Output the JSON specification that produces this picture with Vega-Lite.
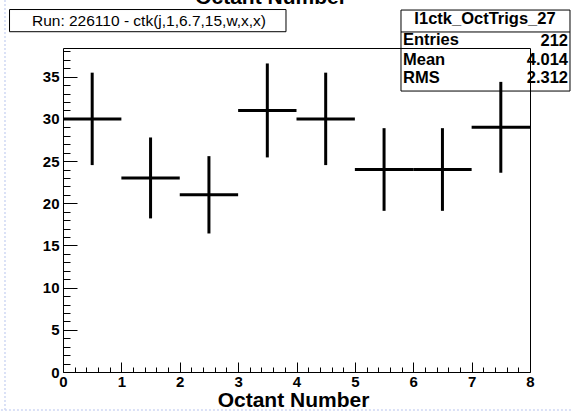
{
  "$schema": "https://vega.github.io/schema/vega-lite/v6.json",
  "width": 467,
  "height": 324,
  "autosize": {"type": "none"},
  "padding": {"left": 63, "top": 48, "right": 41, "bottom": 42},
  "background": "white",
  "config": {
    "view": {"stroke": "black", "strokeWidth": 1},
    "font": "Liberation Sans"
  },
  "datasets": {
    "octants": [
      {"octant": 0.5, "edge_lo": 0, "edge_hi": 1, "entries": 30, "low": 24.523, "high": 35.477},
      {"octant": 1.5, "edge_lo": 1, "edge_hi": 2, "entries": 23, "low": 18.204, "high": 27.796},
      {"octant": 2.5, "edge_lo": 2, "edge_hi": 3, "entries": 21, "low": 16.417, "high": 25.583},
      {"octant": 3.5, "edge_lo": 3, "edge_hi": 4, "entries": 31, "low": 25.432, "high": 36.568},
      {"octant": 4.5, "edge_lo": 4, "edge_hi": 5, "entries": 30, "low": 24.523, "high": 35.477},
      {"octant": 5.5, "edge_lo": 5, "edge_hi": 6, "entries": 24, "low": 19.101, "high": 28.899},
      {"octant": 6.5, "edge_lo": 6, "edge_hi": 7, "entries": 24, "low": 19.101, "high": 28.899},
      {"octant": 7.5, "edge_lo": 7, "edge_hi": 8, "entries": 29, "low": 23.615, "high": 34.385}
    ],
    "single": [{}]
  },
  "resolve": {"axis": {"x": "independent", "y": "independent"}},
  "layer": [
    {
      "data": {"name": "single"},
      "mark": {"type": "rule", "stroke": "#cfd8f4", "strokeWidth": 1.5, "strokeDash": [2, 2]},
      "encoding": {
        "x": {"datum": -0.9936, "type": "quantitative", "axis": null},
        "y": {"datum": -4.504, "type": "quantitative", "axis": null},
        "y2": {"datum": 44.09}
      }
    },
    {
      "data": {"name": "single"},
      "mark": {"type": "rule", "stroke": "#cfd8f4", "strokeWidth": 1.5, "strokeDash": [2, 2]},
      "encoding": {
        "x": {"datum": -1.2, "type": "quantitative", "axis": null},
        "x2": {"datum": 9},
        "y": {"datum": -4.504, "type": "quantitative", "axis": null}
      }
    },
    {
      "data": {"name": "octants"},
      "mark": {"type": "rule", "color": "black", "strokeWidth": 3},
      "encoding": {
        "x": {
          "field": "edge_lo",
          "type": "quantitative",
          "scale": {"domain": [0, 8], "nice": false, "zero": false},
          "axis": {
            "orient": "bottom",
            "offset": -10,
            "values": [0, 1, 2, 3, 4, 5, 6, 7, 8],
            "format": "d",
            "grid": false,
            "domain": false,
            "tickSize": 10,
            "tickColor": "black",
            "tickWidth": 1,
            "labelFont": "Liberation Sans",
            "labelFontWeight": "bold",
            "labelFontSize": 15,
            "labelColor": "black",
            "labelPadding": 2,
            "labelFlush": false,
            "labelOverlap": false,
            "title": "Octant Number",
            "titleFont": "Liberation Sans",
            "titleFontSize": 21,
            "titleFontWeight": "bold",
            "titleColor": "black",
            "titleBaseline": "alphabetic",
            "titleX": 230,
            "titleY": 44
          }
        },
        "x2": {"field": "edge_hi"},
        "y": {
          "field": "entries",
          "type": "quantitative",
          "scale": {"domain": [0, 38.4], "nice": false, "zero": false},
          "axis": {
            "orient": "left",
            "offset": -14,
            "values": [0, 5, 10, 15, 20, 25, 30, 35],
            "format": "d",
            "grid": false,
            "domain": false,
            "tickSize": 14,
            "tickColor": "black",
            "tickWidth": 1,
            "labelFont": "Liberation Sans",
            "labelFontWeight": "bold",
            "labelFontSize": 15,
            "labelColor": "black",
            "labelPadding": 4,
            "labelFlush": false,
            "labelOverlap": false,
            "title": null
          }
        }
      }
    },
    {
      "data": {"name": "octants"},
      "mark": {"type": "rule", "color": "black", "strokeWidth": 3},
      "encoding": {
        "x": {
          "field": "octant",
          "type": "quantitative",
          "axis": {
            "orient": "bottom",
            "offset": -5,
            "values": [0.2, 0.4, 0.6, 0.8, 1.2, 1.4, 1.6, 1.8, 2.2, 2.4, 2.6, 2.8, 3.2, 3.4, 3.6, 3.8, 4.2, 4.4, 4.6, 4.8, 5.2, 5.4, 5.6, 5.8, 6.2, 6.4, 6.6, 6.8, 7.2, 7.4, 7.6, 7.8],
            "grid": false,
            "domain": false,
            "labels": false,
            "tickSize": 5,
            "tickColor": "black",
            "tickWidth": 1,
            "title": null
          }
        },
        "y": {
          "field": "low",
          "type": "quantitative",
          "axis": {
            "orient": "left",
            "offset": -7,
            "values": [1, 2, 3, 4, 6, 7, 8, 9, 11, 12, 13, 14, 16, 17, 18, 19, 21, 22, 23, 24, 26, 27, 28, 29, 31, 32, 33, 34, 36, 37, 38],
            "grid": false,
            "domain": false,
            "labels": false,
            "tickSize": 7,
            "tickColor": "black",
            "tickWidth": 1,
            "title": null
          }
        },
        "y2": {"field": "high"}
      }
    },
    {
      "data": {"name": "single"},
      "mark": {"type": "text", "text": "Octant Number", "font": "Liberation Sans", "fontWeight": "bold", "fontSize": 21, "color": "black", "align": "center", "baseline": "alphabetic"},
      "encoding": {
        "x": {"datum": 3.563, "type": "quantitative", "axis": null},
        "y": {"datum": 43.6, "type": "quantitative", "axis": null}
      }
    },
    {
      "data": {"name": "single"},
      "mark": {"type": "rect", "filled": false, "stroke": "black", "strokeWidth": 1},
      "encoding": {
        "x": {"datum": -0.916, "type": "quantitative", "axis": null},
        "x2": {"datum": 3.82},
        "y": {"datum": 42.96, "type": "quantitative", "axis": null},
        "y2": {"datum": 40.33}
      }
    },
    {
      "data": {"name": "single"},
      "mark": {"type": "text", "text": "Run: 226110 - ctk(j,1,6.7,15,w,x,x)", "font": "Liberation Sans", "fontSize": 15.5, "color": "black", "align": "center", "baseline": "alphabetic"},
      "encoding": {
        "x": {"datum": 1.473, "type": "quantitative", "axis": null},
        "y": {"datum": 40.95, "type": "quantitative", "axis": null}
      }
    },
    {
      "data": {"name": "single"},
      "mark": {"type": "rect", "filled": false, "stroke": "black", "strokeWidth": 1},
      "encoding": {
        "x": {"datum": 5.79, "type": "quantitative", "axis": null},
        "x2": {"datum": 8.685},
        "y": {"datum": 42.9, "type": "quantitative", "axis": null},
        "y2": {"datum": 33.3}
      }
    },
    {
      "data": {"name": "single"},
      "mark": {"type": "rule", "color": "black", "strokeWidth": 1},
      "encoding": {
        "x": {"datum": 5.79, "type": "quantitative", "axis": null},
        "x2": {"datum": 8.685},
        "y": {"datum": 40.3, "type": "quantitative", "axis": null}
      }
    },
    {
      "data": {"name": "single"},
      "mark": {"type": "text", "text": "I1ctk_OctTrigs_27", "font": "Liberation Sans", "fontWeight": "bold", "fontSize": 16.5, "color": "black", "align": "center", "baseline": "alphabetic"},
      "encoding": {
        "x": {"datum": 7.229, "type": "quantitative", "axis": null},
        "y": {"datum": 41.24, "type": "quantitative", "axis": null}
      }
    },
    {
      "data": {"name": "single"},
      "mark": {"type": "text", "text": "Entries", "font": "Liberation Sans", "fontWeight": "bold", "fontSize": 16.5, "color": "black", "align": "left", "baseline": "alphabetic"},
      "encoding": {
        "x": {"datum": 5.824, "type": "quantitative", "axis": null},
        "y": {"datum": 38.76, "type": "quantitative", "axis": null}
      }
    },
    {
      "data": {"name": "single"},
      "mark": {"type": "text", "text": "212", "font": "Liberation Sans", "fontWeight": "bold", "fontSize": 16.5, "color": "black", "align": "right", "baseline": "alphabetic"},
      "encoding": {
        "x": {"datum": 8.651, "type": "quantitative", "axis": null},
        "y": {"datum": 38.6, "type": "quantitative", "axis": null}
      }
    },
    {
      "data": {"name": "single"},
      "mark": {"type": "text", "text": "Mean", "font": "Liberation Sans", "fontWeight": "bold", "fontSize": 16.5, "color": "black", "align": "left", "baseline": "alphabetic"},
      "encoding": {
        "x": {"datum": 5.824, "type": "quantitative", "axis": null},
        "y": {"datum": 36.39, "type": "quantitative", "axis": null}
      }
    },
    {
      "data": {"name": "single"},
      "mark": {"type": "text", "text": "4.014", "font": "Liberation Sans", "fontWeight": "bold", "fontSize": 16.5, "color": "black", "align": "right", "baseline": "alphabetic"},
      "encoding": {
        "x": {"datum": 8.651, "type": "quantitative", "axis": null},
        "y": {"datum": 36.39, "type": "quantitative", "axis": null}
      }
    },
    {
      "data": {"name": "single"},
      "mark": {"type": "text", "text": "RMS", "font": "Liberation Sans", "fontWeight": "bold", "fontSize": 16.5, "color": "black", "align": "left", "baseline": "alphabetic"},
      "encoding": {
        "x": {"datum": 5.824, "type": "quantitative", "axis": null},
        "y": {"datum": 34.25, "type": "quantitative", "axis": null}
      }
    },
    {
      "data": {"name": "single"},
      "mark": {"type": "text", "text": "2.312", "font": "Liberation Sans", "fontWeight": "bold", "fontSize": 16.5, "color": "black", "align": "right", "baseline": "alphabetic"},
      "encoding": {
        "x": {"datum": 8.651, "type": "quantitative", "axis": null},
        "y": {"datum": 34.25, "type": "quantitative", "axis": null}
      }
    }
  ]
}
